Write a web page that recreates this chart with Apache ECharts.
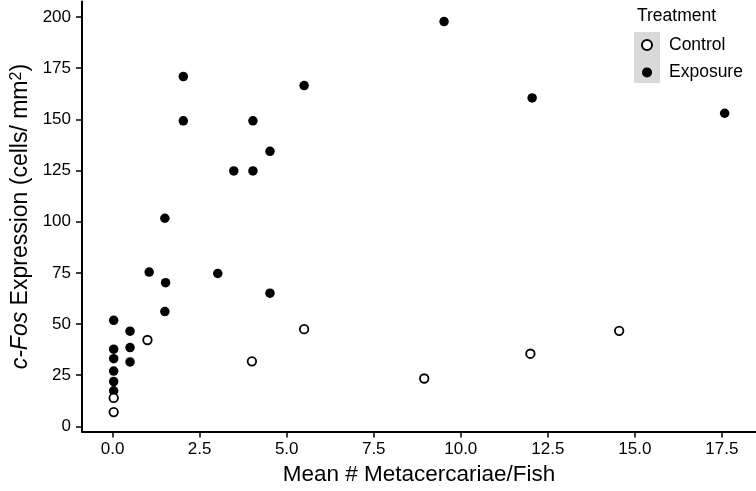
<!DOCTYPE html>
<html>
<head>
<meta charset="utf-8">
<script src="https://cdn.jsdelivr.net/npm/echarts@6/dist/echarts.min.js"></script>
<style>
    html, body { margin: 0; padding: 0; background: #fff; }
    #chart { width: 756px; height: 491px; }
</style>
</head>
<body>
<div id="chart"></div>
<script>
// data
var controlX = [0.03, 0.03, 1.0, 4.0, 5.5, 8.95, 12.0, 14.55];
var controlY = [7.0, 13.9, 42.2, 31.8, 47.5, 23.4, 35.5, 46.7];

var exposureX = [0.03, 0.03, 0.03, 0.03, 0.03, 0.03, 0.5, 0.5, 0.5, 1.05, 1.52, 1.5, 1.5,
    2.03, 2.03, 3.02, 3.48, 4.03, 4.03, 4.52, 4.52, 5.5, 9.52, 12.05, 17.58];
var exposureY = [51.8, 37.7, 33.1, 27.0, 21.9, 17.4, 46.5, 38.5, 31.5, 75.4, 70.2, 56.1, 101.7,
    170.9, 149.3, 74.7, 124.8, 124.8, 149.3, 134.4, 65.1, 166.5, 197.8, 160.5, 153.0];

var xTicks = [0, 2.5, 5, 7.5, 10, 12.5, 15, 17.5];
var yTicks = [0, 25, 50, 75, 100, 125, 150, 175, 200];

var font = 'Liberation Sans, Arial, Helvetica, sans-serif';

function pairs(xs, ys) {
    var out = [];
    xs.forEach(function(x, i) {
        out.push([x, ys[i]]);
    });
    return out;
}

var chart = echarts.init(document.getElementById('chart'));
chart.setOption({
    animation: false,
    backgroundColor: '#fff',
    grid: { left: 82, right: 0, top: 1.6, bottom: 52.4 },
    title: {
        text: 'Treatment',
        left: 632,
        top: 2,
        textStyle: { fontFamily: font, fontSize: 17.5, fontWeight: 'normal', color: '#000' }
    },
    // grey key background like ggplot
    graphic: [{
        type: 'rect',
        z: 0,
        shape: { x: 634, y: 32, width: 26, height: 51 },
        style: { fill: '#d9d9d9' }
    }],
    legend: {
        orient: 'vertical',
        left: 636,
        top: 31,
        z: 5,
        itemWidth: 34,
        itemHeight: 10,
        itemGap: 9.4,
        data: ['Control', 'Exposure'],
        textStyle: { fontFamily: font, fontSize: 17.5, color: '#000' }
    },
    xAxis: {
        type: 'value',
        min: -0.88,
        max: 18.48,
        name: 'Mean # Metacercariae/Fish',
        nameLocation: 'middle',
        nameGap: 21,
        nameTextStyle: { fontFamily: font, fontSize: 22.5, color: '#000' },
        splitLine: { show: false },
        axisLine: { onZero: false, lineStyle: { color: '#000', width: 2 } },
        axisTick: { customValues: xTicks, length: 6, lineStyle: { color: '#000', width: 1.5 } },
        axisLabel: {
            customValues: xTicks,
            margin: 9.5,
            fontFamily: font,
            fontSize: 17,
            color: '#000',
            formatter: function(v) { return v.toFixed(1); }
        }
    },
    yAxis: {
        type: 'value',
        min: -2.55,
        max: 207.55,
        name: '{i|c-Fos} Expression (cells/ mm{s|2})',
        nameLocation: 'middle',
        nameGap: 44,
        nameTextStyle: {
            fontFamily: font, fontSize: 23, color: '#000',
            rich: {
                i: { fontFamily: font, fontSize: 23, fontStyle: 'italic', color: '#000' },
                s: { fontFamily: font, fontSize: 16, color: '#000', verticalAlign: 'top' }
            }
        },
        splitLine: { show: false },
        axisLine: { onZero: false, lineStyle: { color: '#000', width: 2 } },
        axisTick: { customValues: yTicks, length: 6, lineStyle: { color: '#000', width: 1.5 } },
        axisLabel: {
            customValues: yTicks,
            margin: 11,
            fontFamily: font,
            fontSize: 17,
            color: '#000'
        }
    },
    series: [{
        name: 'Exposure',
        type: 'scatter',
        symbol: 'circle',
        symbolSize: 9.5,
        itemStyle: { color: '#000', opacity: 1 },
        data: pairs(exposureX, exposureY)
    }, {
        name: 'Control',
        type: 'scatter',
        symbol: 'circle',
        symbolSize: 8.5,
        itemStyle: { color: '#fff', borderColor: '#000', borderWidth: 1.8, opacity: 1 },
        data: pairs(controlX, controlY)
    }]
});
</script>
</body>
</html>
